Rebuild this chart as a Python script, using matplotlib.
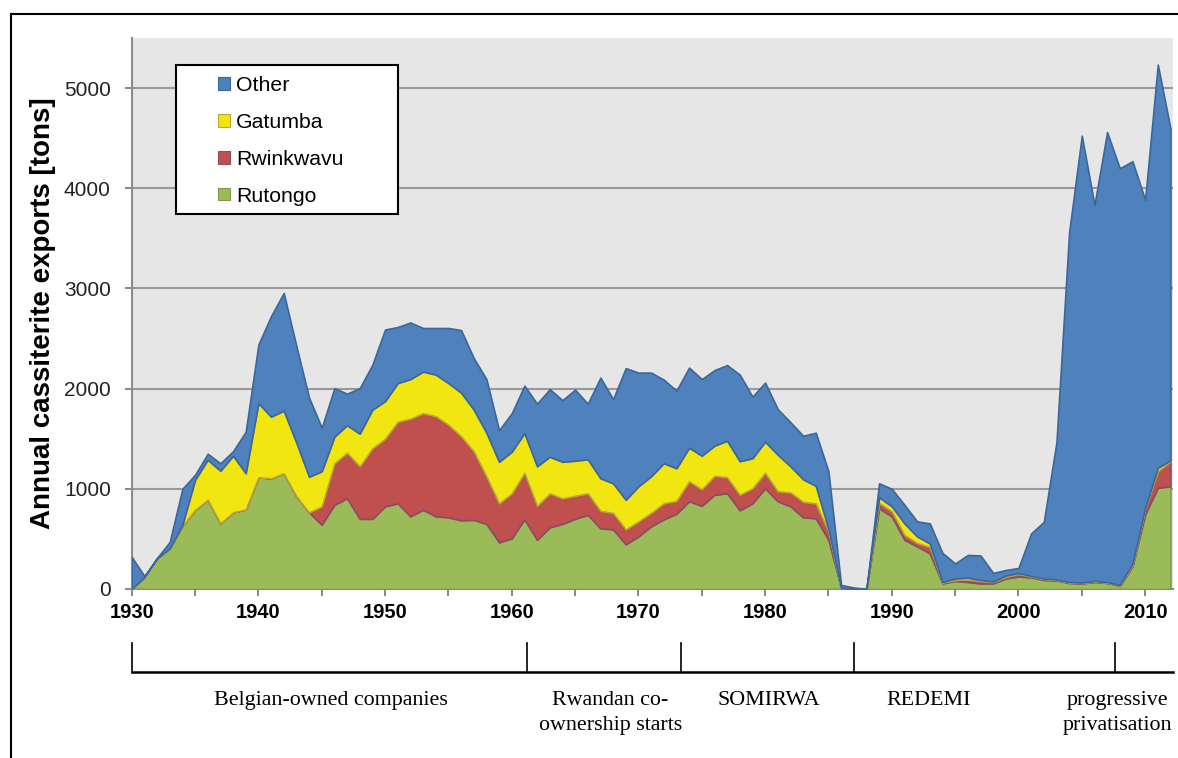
import numpy as np
import matplotlib
matplotlib.use("Agg")
import matplotlib.pyplot as plt
from matplotlib.patches import Patch, Rectangle
from matplotlib.lines import Line2D

plt.rcParams['font.family'] = ['Liberation Sans', 'DejaVu Sans']

years = list(range(1930, 2013))

rutongo = [0, 120, 305, 405, 630, 790, 890, 655, 765, 795,
           1115, 1105, 1155, 925, 765, 640, 840, 905, 700, 700,
           825, 855, 725, 790, 725, 715, 685, 690, 650, 465,
           505, 695, 490, 615, 650, 700, 740, 605, 595, 445,
           525, 625, 695, 750, 875, 830, 940, 955, 785, 855,
           1005, 875, 825, 715, 705, 490, 10, 0, 0, 805,
           725, 490, 425, 355, 55, 80, 70, 55, 55, 105,
           125, 115, 90, 85, 60, 55, 70, 60, 30, 225,
           745, 1010, 1025]

rwinkwavu = [0, 0, 0, 0, 0, 0, 0, 0, 0, 0,
             0, 0, 0, 0, 0, 185, 415, 455, 525, 705,
             675, 815, 975, 965, 1000, 925, 840, 685, 475, 390,
             450, 465, 340, 340, 255, 230, 215, 175, 165, 150,
             150, 135, 160, 130, 200, 165, 190, 160, 155, 150,
             155, 100, 140, 155, 150, 85, 0, 0, 0, 55,
             50, 50, 35, 65, 10, 10, 25, 25, 15, 15,
             25, 10, 10, 5, 5, 5, 5, 5, 5, 15,
             60, 165, 250]

gatumba = [0, 0, 0, 0, 10, 300, 400, 525, 565, 360,
           740, 615, 625, 535, 355, 350, 265, 275, 325, 385,
           375, 385, 395, 415, 415, 415, 435, 415, 435, 415,
           415, 395, 395, 365, 365, 350, 340, 325, 295, 295,
           350, 365, 400, 325, 335, 335, 300, 365, 335, 300,
           310, 365, 260, 225, 175, 25, 0, 0, 0, 55,
           50, 115, 65, 35, 5, 15, 20, 10, 5, 15,
           10, 5, 5, 5, 5, 5, 5, 5, 5, 15,
           5, 35, 10]

other = [320, 10, 5, 65, 360, 50, 60, 75, 45, 415,
         585, 1005, 1175, 965, 790, 435, 485, 315, 455, 450,
         715, 560, 565, 435, 465, 550, 625, 515, 535, 315,
         385, 475, 625, 675, 615, 710, 555, 1005, 840, 1315,
         1135, 1035, 835, 775, 800, 765, 755, 755, 865, 615,
         590, 455, 440, 435, 530, 575, 30, 15, 0, 140,
         175, 185, 150, 200, 290, 150, 225, 245, 85, 55,
         50, 425, 565, 1370, 3490, 4460, 3755, 4490, 4160, 4015,
         3075, 4025, 3310]

series_names = ['Rutongo', 'Rwinkwavu', 'Gatumba', 'Other']
fill_colors = ['#9BBB59', '#C0504D', '#F2E611', '#4F81BD']
edge_colors = ['#7E9A45', '#8A4A6A', '#B8A83A', '#3A6799']

phase_bounds = [1930, 1961.2, 1973.4, 1987.0, 2007.6]
phase_labels = ['Belgian-owned companies', 'Rwandan co-\nownership starts',
                'SOMIRWA', 'REDEMI', 'progressive\nprivatisation']
phase_label_x = [1945.7, 1967.8, 1980.3, 1992.9, 2012.1]
phase_label_ha = ['center', 'center', 'center', 'center', 'right']

W, H = 1178, 758
fig = plt.figure(figsize=(W / 100, H / 100), dpi=100)

x0, x1, y0, y1 = 131.7, 1173, 38, 589
ax = fig.add_axes([x0 / W, 1 - y1 / H, (x1 - x0) / W, (y1 - y0) / H])
ax.set_facecolor('#E6E6E6')

polys = ax.stackplot(years, rutongo, rwinkwavu, gatumba, other,
                     colors=fill_colors, linewidth=1.2, zorder=3)
for p, ec in zip(polys, edge_colors):
    p.set_edgecolor(ec)

ax.set_xlim(1930, 2012.2)
ax.set_ylim(0, 5500)
ax.set_yticks(range(0, 5001, 1000))
ax.set_xticks(range(1930, 2011, 10))
ax.set_xticks(range(1935, 2011, 10), minor=True)
ax.yaxis.grid(True, color='#999999', linewidth=1.5, zorder=0)
ax.set_axisbelow(True)

for s in ['top', 'right']:
    ax.spines[s].set_visible(False)
for s in ['left', 'bottom']:
    ax.spines[s].set_color('#8C8C8C')
    ax.spines[s].set_linewidth(1.5)

ax.tick_params(axis='y', which='both', length=5, width=1.5, color='#8C8C8C',
               labelsize=15, pad=10, labelcolor='#222222')
ax.tick_params(axis='x', which='both', length=5, width=1.5, color='#8C8C8C',
               labelsize=14.5, pad=5)
for lab in ax.get_xticklabels():
    lab.set_fontweight('bold')

ax.set_ylabel('Annual cassiterite exports [tons]', fontsize=20, fontweight='bold')
ax.yaxis.set_label_coords((56 - x0) / (x1 - x0), 0.5)

# legend box
fig.patches.append(Rectangle((176 / W, 1 - 214 / H), 222 / W, 149 / H,
                             transform=fig.transFigure, facecolor='white',
                             edgecolor='black', linewidth=1.5, zorder=5))
handles = [Patch(facecolor=fill_colors[i], edgecolor=edge_colors[i], linewidth=0.8)
           for i in [3, 2, 1, 0]]
leg = fig.legend(handles, [series_names[i] for i in [3, 2, 1, 0]],
                 loc='upper left', bbox_to_anchor=(218 / W, 1 - 76 / H),
                 frameon=False, fontsize=15.3, handlelength=0.55, handleheight=0.55,
                 handletextpad=0.3, labelspacing=0.84, borderaxespad=0,
                 borderpad=0)
leg.set_zorder(6)

# outer frame
fig.add_artist(Line2D([11 / W, 1], [1 - 14 / H, 1 - 14 / H], color='black', linewidth=1.5,
                      transform=fig.transFigure))
fig.add_artist(Line2D([11 / W, 11 / W], [1 - 14 / H, 0], color='black', linewidth=1.5,
                      transform=fig.transFigure))

# ownership timeline
tl = fig.add_axes([x0 / W, 0, (x1 - x0) / W, 1 - y1 / H - 0.06])
tl.set_xlim(1930, 2012.2)
tl.set_ylim(758, 640)
tl.axis('off')
tl.plot([1930, 2012.2], [676, 676], color='black', linewidth=1.8, clip_on=False)
for b in phase_bounds:
    tl.plot([b, b], [648, 676], color='black', linewidth=1.2, clip_on=False)
for lx, lt, ha in zip(phase_label_x, phase_labels, phase_label_ha):
    tl.text(lx, 694, lt, ha=ha, va='top', fontsize=15.8, multialignment='center',
            family='Liberation Serif', linespacing=1.45)

fig.savefig('out.png', dpi=100)
